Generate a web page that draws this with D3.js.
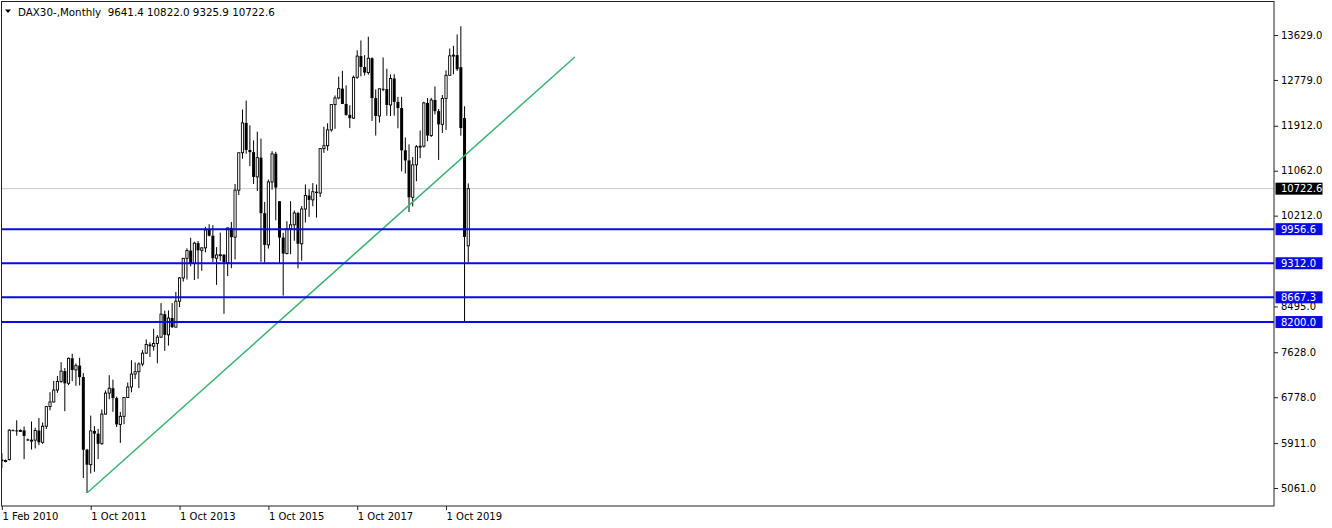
<!DOCTYPE html>
<html><head><meta charset="utf-8">
<script src="https://cdn.jsdelivr.net/npm/d3@7/dist/d3.min.js"></script>
<style>
body{margin:0;background:#fff}
svg{display:block}
text{font-family:"DejaVu Sans",Verdana,sans-serif;font-size:10px;fill:#000}
</style>
</head><body>
<svg id="chart" width="1332" height="528"></svg>
<script>
// ---------------- data ----------------
const symbolName = "DAX30-";
const periodName = "Monthly";

const barDates = [
"2010-02-01","2010-02-28","2010-03-01","2010-03-31","2010-04-01","2010-04-30","2010-05-01","2010-05-31","2010-06-01","2010-07-01","2010-08-01","2010-09-01","2010-10-01","2010-11-01","2010-12-01",
"2011-01-01","2011-02-01","2011-03-01","2011-04-01","2011-05-01","2011-06-01","2011-07-01","2011-08-01","2011-09-01","2011-10-01","2011-11-01","2011-12-01",
"2012-01-01","2012-02-01","2012-03-01","2012-04-01","2012-05-01","2012-06-01","2012-07-01","2012-08-01","2012-09-01","2012-10-01","2012-11-01","2012-12-01",
"2013-01-01","2013-02-01","2013-03-01","2013-04-01","2013-05-01","2013-06-01","2013-07-01","2013-08-01","2013-09-01","2013-10-01","2013-11-01","2013-12-01",
"2014-01-01","2014-02-01","2014-03-01","2014-04-01","2014-05-01","2014-06-01","2014-07-01","2014-08-01","2014-09-01","2014-10-01","2014-11-01","2014-12-01",
"2015-01-01","2015-02-01","2015-03-01","2015-04-01","2015-05-01","2015-06-01","2015-07-01","2015-08-01","2015-09-01","2015-10-01","2015-11-01","2015-12-01",
"2016-01-01","2016-02-01","2016-03-01","2016-04-01","2016-05-01","2016-06-01","2016-07-01","2016-08-01","2016-09-01","2016-10-01","2016-11-01","2016-12-01",
"2017-01-01","2017-02-01","2017-03-01","2017-04-01","2017-05-01","2017-06-01","2017-07-01","2017-08-01","2017-09-01","2017-10-01","2017-11-01","2017-12-01",
"2018-01-01","2018-02-01","2018-03-01","2018-04-01","2018-05-01","2018-06-01","2018-07-01","2018-08-01","2018-09-01","2018-10-01","2018-11-01","2018-12-01",
"2019-01-01","2019-02-01","2019-03-01","2019-04-01","2019-05-01","2019-06-01","2019-07-01","2019-08-01","2019-09-01","2019-10-01","2019-11-01","2019-12-01",
"2020-01-01","2020-02-01","2020-03-01","2020-04-01"
];

const opens = [
5598,5570,5598,6154,6150,6136,6150,5980,5950,5966,6148,5925,6229,6601,6688,
6914,7077,7272,7041,7514,7294,7376,7159,5785,5502,6141,6089,
5898,6459,6856,6947,6761,6264,6416,6772,6971,7216,7261,7406,
7612,7776,7742,7795,7914,8349,7959,8276,8103,8594,9034,9405,
9552,9306,9692,9556,9603,9943,9833,9407,9470,9474,9327,9981,
9806,10694,11402,11966,11454,11414,10945,11309,10259,9660,10850,11382,
10485,9798,9495,9966,10039,10263,9680,10338,10593,10511,10665,10640,
11481,11535,11834,12313,12438,12615,12325,12118,12056,12829,13230,13024,
12918,13189,12436,12097,12612,12605,12306,12806,12364,12247,11448,11257,
10559,11173,11516,11526,12344,11727,12399,12189,11939,12428,12867,13236,
13249,13020,12060,9641.4
];
const highs = [
5720,5600,6175,6170,6342,6170,6223,5995,6318,6200,6386,6300,6610,6873,7087,
7180,7441,7330,7527,7600,7417,7523,7234,5801,6430,6232,6178,
6547,6905,7194,7111,6790,6500,6780,7056,7478,7437,7437,7673,
7871,7816,8074,7955,8558,8416,8420,8558,8770,9050,9410,9594,
9794,9720,9733,9615,10000,10051,10033,9617,9891,9482,9983,10093,
10810,11402,12220,12390,11920,11636,11802,11670,10473,10896,11431,11420,
10486,9888,10107,10486,10310,10284,10393,10802,10710,10827,10800,11482,
11893,11959,12313,12486,12842,12952,12676,12300,12861,13340,13526,13248,
13597,13205,12600,12615,13205,12992,12883,12887,12458,12460,11690,11561,
11322,11547,11823,12366,12436,12439,12656,12229,12494,12961,13374,13425,
13640,13795,12280,10822.0
];
const lows = [
5440,5545,5583,6140,6050,6130,5607,5950,5788,5810,5873,5895,6176,6530,6680,
6860,7050,6514,7007,7083,6995,7001,5251,4965,5335,5367,5608,
5880,6450,6740,6502,6215,5914,6268,6765,6871,7124,6950,7365,
7600,7540,7660,7418,7900,7655,7754,8088,8101,8483,8965,9004,
9254,8995,9017,9170,9519,9819,9331,8903,9358,8355,9069,9219,
9382,10603,11290,11384,11148,10810,10677,9338,9325,9589,10706,10124,
9315,8700,9480,9484,9737,9215,9359,10082,10189,10390,10175,10565,
11400,11442,11800,11855,12412,12325,12101,11868,12040,12800,12847,12862,
12879,12003,11727,11973,12565,12104,12097,12104,11865,11051,11009,10279,
10387,10863,11299,11500,11620,11700,12127,11266,11776,11834,12860,12887,
12948,11725,8205,9325.9
];
const closes = [
5570,5580,6154,6150,6136,6150,6046,5966,5966,6148,5925,6229,6601,6688,6914,
7077,7272,7041,7514,7294,7376,7159,5785,5502,6141,6089,5898,
6459,6856,6947,6761,6264,6416,6772,6971,7216,7261,7406,7612,
7776,7742,7795,7914,8349,7959,8276,8103,8594,9034,9405,9552,
9306,9692,9556,9603,9943,9833,9407,9470,9474,9327,9981,9806,
10694,11402,11966,11454,11414,10945,11309,10259,9660,10850,11382,10743,
9798,9495,9966,10039,10263,9680,10338,10593,10511,10665,10640,11481,
11535,11834,12313,12438,12615,12325,12118,12056,12829,13230,13024,12918,
13189,12436,12097,12612,12605,12306,12806,12364,12247,11448,11257,10559,
11173,11516,11526,12344,11727,12399,12189,11939,12428,12867,13236,13249,
12982,11870,9810,10722.6
];

const priceTicks = [13629, 12779, 11912, 11062, 10212, 8495, 7628, 6778, 5911, 5061];
const timeTickDates = ["2010-02-01","2011-10-01","2013-10-01","2015-10-01","2017-10-01","2019-10-01"];
const levelLines = [9956.6, 9312.0, 8667.3, 8200.0];
const currentPrice = 10722.6;
// trend line anchors: bar position (in bars from first bar) and price
const trendBars = [23.3, 154.8];
const trendPrices = [4985, 13213];

// ---------------- layout ----------------
const W = 1332, H = 528;
const plot = {left: 1.5, top: 1.5, right: 1274, bottom: 506};
const barsVisible = 343.7;

const svg = d3.select("#chart");
const x = d3.scaleLinear().domain([0, barsVisible]).range([1.9, plot.right]);
const y = d3.scaleLinear().domain([5061, 13629]).range([488, 35]);

const bars = barDates.map((d, i) => ({i, date: d, o: opens[i], h: highs[i], l: lows[i], c: closes[i]}));

svg.append("rect").attr("width", W).attr("height", H).attr("fill", "#fff");

svg.append("defs").append("clipPath").attr("id", "clip")
  .append("rect").attr("x", plot.left).attr("y", plot.top)
  .attr("width", plot.right - plot.left).attr("height", plot.bottom - plot.top);

const g = svg.append("g").attr("clip-path", "url(#clip)");

// current price line (behind candles)
g.append("line")
  .attr("x1", plot.left).attr("x2", plot.right)
  .attr("y1", y(currentPrice)).attr("y2", y(currentPrice))
  .attr("stroke", "#c8c8c8").attr("stroke-width", 1);

// candles
const cg = g.append("g");
cg.selectAll("line.wick").data(bars).join("line")
  .attr("class", "wick")
  .attr("x1", d => x(d.i)).attr("x2", d => x(d.i))
  .attr("y1", d => y(d.h)).attr("y2", d => y(d.l))
  .attr("stroke", "#000").attr("stroke-width", 1);

cg.selectAll("rect.body").data(bars).join("rect")
  .attr("class", "body")
  .attr("x", d => x(d.i) - (d.c >= d.o ? 1.1 : 1.5))
  .attr("width", d => d.c >= d.o ? 2.2 : 3)
  .attr("y", d => y(Math.max(d.o, d.c)))
  .attr("height", d => Math.max(1, Math.abs(y(d.o) - y(d.c))))
  .attr("fill", d => d.c >= d.o ? "#fff" : "#000")
  .attr("stroke", "#000")
  .attr("stroke-width", d => d.c >= d.o ? 0.9 : 0);

// trend line
g.append("line")
  .attr("x1", x(trendBars[0])).attr("y1", y(trendPrices[0]))
  .attr("x2", x(trendBars[1])).attr("y2", y(trendPrices[1]))
  .attr("stroke", "#3cb371").attr("stroke-width", 1.6);

// horizontal levels
g.selectAll("line.level").data(levelLines).join("line")
  .attr("class", "level")
  .attr("x1", plot.left).attr("x2", plot.right)
  .attr("y1", d => y(d)).attr("y2", d => y(d))
  .attr("stroke", "#0a0ae6").attr("stroke-width", 2);

// frame
svg.append("rect")
  .attr("x", plot.left).attr("y", plot.top)
  .attr("width", plot.right - plot.left).attr("height", plot.bottom - plot.top)
  .attr("fill", "none").attr("stroke", "#222").attr("stroke-width", 1);

// price axis
const fmt = d3.format(".1f");
const yAxis = d3.axisRight(y).tickValues(priceTicks).tickFormat(fmt).tickSize(4).tickPadding(3);
const ya = svg.append("g").attr("transform", `translate(${plot.right},0)`).call(yAxis);
ya.select(".domain").remove();
ya.selectAll(".tick line").attr("stroke", "#222");
ya.selectAll(".tick text").attr("fill", "#000").style("font-family", '"DejaVu Sans",sans-serif').style("font-size", "10px");

// time axis
const parse = d3.timeParse("%Y-%m-%d");
const tfmt = d3.timeFormat("%-d %b %Y");
const xAxis = d3.axisBottom(x)
  .tickValues(timeTickDates.map(d => barDates.indexOf(d)))
  .tickFormat(i => tfmt(parse(barDates[i])))
  .tickSize(4).tickPadding(3);
const xa = svg.append("g").attr("transform", `translate(0,${plot.bottom})`).call(xAxis);
xa.select(".domain").remove();
xa.selectAll(".tick line").attr("stroke", "#222");
xa.selectAll(".tick text").attr("text-anchor", "start").attr("x", 0)
  .attr("fill", "#000").style("font-family", '"DejaVu Sans",sans-serif').style("font-size", "10px");

// price label boxes
function priceBox(v, fill) {
  const b = svg.append("g").attr("transform", `translate(${plot.right + 1.5},${y(v)})`);
  b.append("rect").attr("x", 0).attr("y", -6).attr("width", 47).attr("height", 12).attr("fill", fill);
  b.append("text").attr("x", 5.5).attr("dy", "0.35em").style("fill", "#fff").text(fmt(v));
}
priceBox(currentPrice, "#000");
levelLines.forEach(v => priceBox(v, "#0a0ae6"));

// title
const last = bars[bars.length - 1];
svg.append("path").attr("d", d3.line()([[5, 9.5], [11, 9.5], [8, 13]]) + "Z").attr("fill", "#000");
svg.append("text").attr("x", 18).attr("y", 15.5)
  .style("font-size", "10.3px")
  .text(`${symbolName},${periodName}  ${fmt(last.o)} ${fmt(last.h)} ${fmt(last.l)} ${fmt(last.c)}`)
  .attr("xml:space", "preserve").style("white-space", "pre");
</script>
</body></html>
